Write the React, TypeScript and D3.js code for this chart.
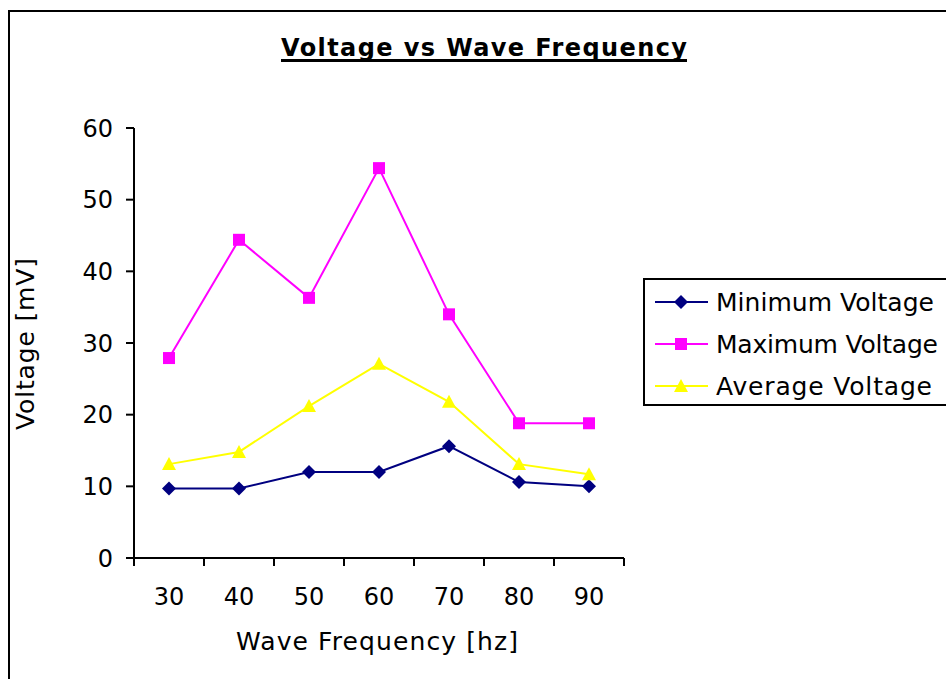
import React from "react";
import * as d3 from "d3";

const categories = ["30", "40", "50", "60", "70", "80", "90"];
const minVoltage = [9.7, 9.7, 12.0, 12.0, 15.6, 10.6, 10.0];
const maxVoltage = [27.9, 44.4, 36.3, 54.4, 34.0, 18.8, 18.8];
const avgVoltage = [13.1, 14.8, 21.2, 27.1, 21.8, 13.1, 11.7];
const yTicks = [0, 10, 20, 30, 40, 50, 60];
const seriesNames = ["Minimum Voltage", "Maximum Voltage", "Average Voltage"];

const FONT = "'DejaVu Sans', Verdana, sans-serif";

export default function App() {
  const W = 946, H = 679;
  const left = 134, right = 624, top = 128, bottom = 558;
  const x = d3.scaleBand<string>().domain(categories).range([left, right]);
  const y = d3.scaleLinear().domain([0, 60]).range([bottom, top]);
  const cx = (c: string) => (x(c) as number) + x.bandwidth() / 2;

  const line = d3
    .line<number>()
    .x((_, i) => cx(categories[i]))
    .y((d) => y(d));

  const series = [
    { name: seriesNames[0], values: minVoltage, color: "#000080", marker: "diamond", tl: 218 },
    { name: seriesNames[1], values: maxVoltage, color: "#FF00FF", marker: "square", tl: 222 },
    { name: seriesNames[2], values: avgVoltage, color: "#FFFF00", marker: "triangle", tl: 216 },
  ];

  const marker = (type: string, px: number, py: number, color: string, key: string) => {
    if (type === "diamond") {
      const s = 7;
      return (
        <path key={key} d={`M${px},${py - s}L${px + s},${py}L${px},${py + s}L${px - s},${py}Z`} fill={color} />
      );
    }
    if (type === "square") {
      const s = 6;
      return <rect key={key} x={px - s} y={py - s} width={2 * s} height={2 * s} fill={color} />;
    }
    const w = 7, h = 12;
    return (
      <path key={key} d={`M${px},${py - h / 2 - 1}L${px + w},${py + h / 2}L${px - w},${py + h / 2}Z`} fill={color} />
    );
  };

  const xTickPos = [...categories.map((c) => x(c) as number), right];

  const legendX = 644, legendY = 279, legendRow = 42;

  return (
    <svg
      width={W}
      height={H}
      style={{ position: "absolute", left: 0, top: 0, background: "#fff" }}
      fontFamily={FONT}
    >
      <rect x={9} y={11} width={1000} height={1000} fill="#fff" stroke="#000" strokeWidth={2} />
      <text x={281} y={56} fontSize={24} fontWeight="bold" textLength={406} lengthAdjust="spacing">
        Voltage vs Wave Frequency
      </text>
      <line x1={281} x2={687} y1={60.5} y2={60.5} stroke="#000" strokeWidth={3} />

      {/* y axis */}
      <line x1={left} x2={left} y1={top} y2={bottom} stroke="#000" strokeWidth={2} />
      {yTicks.map((t) => (
        <g key={t}>
          <line x1={left - 8} x2={left} y1={y(t)} y2={y(t)} stroke="#000" strokeWidth={2} />
          <text x={113} y={y(t)} dy="0.36em" textAnchor="end" fontSize={24}>
            {t}
          </text>
        </g>
      ))}
      {/* x axis */}
      <line x1={left} x2={right} y1={bottom} y2={bottom} stroke="#000" strokeWidth={2} />
      {xTickPos.map((p, i) => (
        <line key={i} x1={p} x2={p} y1={bottom} y2={bottom + 8} stroke="#000" strokeWidth={2} />
      ))}
      {categories.map((c) => (
        <text key={c} x={cx(c)} y={605} textAnchor="middle" fontSize={24}>
          {c}
        </text>
      ))}
      <text x={236} y={650} fontSize={25} textLength={282} lengthAdjust="spacing">
        Wave Frequency [hz]
      </text>
      <text
        transform={`translate(34,430) rotate(-90)`}
        fontSize={25}
        textLength={172}
        lengthAdjust="spacing"
      >
        Voltage [mV]
      </text>

      {series.map((s) => (
        <g key={s.name}>
          <path d={line(s.values) || ""} fill="none" stroke={s.color} strokeWidth={2} />
          {s.values.map((v, i) => marker(s.marker, cx(categories[i]), y(v), s.color, s.name + i))}
        </g>
      ))}

      {/* legend */}
      <rect x={legendX} y={legendY} width={400} height={126} fill="#fff" stroke="#000" strokeWidth={2} />
      {series.map((s, i) => {
        const ry = legendY + 23 + i * legendRow;
        return (
          <g key={s.name}>
            <line x1={655} x2={708} y1={ry} y2={ry} stroke={s.color} strokeWidth={2} />
            {marker(s.marker, 681, ry, s.color, "lg" + i)}
            <text x={716} y={ry} dy="0.36em" fontSize={25} textLength={s.tl} lengthAdjust="spacing">
              {s.name}
            </text>
          </g>
        );
      })}
    </svg>
  );
}
